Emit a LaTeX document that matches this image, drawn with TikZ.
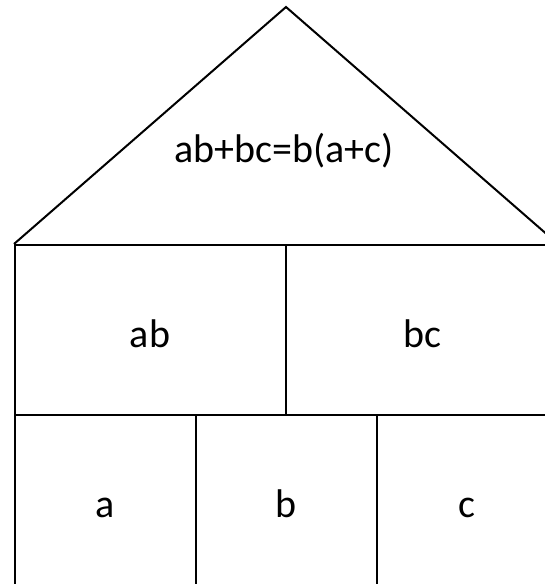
\documentclass[tikz,border=0pt]{standalone}
\usepackage{fontspec}
\setmainfont{Carlito}
\usetikzlibrary{positioning}

\begin{document}
\begin{tikzpicture}[
  x=1pt, y=-1pt,
  cell/.style={draw, line width=2pt, inner sep=0pt, minimum height=170pt},
  lbl/.style={anchor=base, inner sep=0pt, font=\fontsize{40}{44}\selectfont}
]
  \useasboundingbox (0,0) rectangle (545,584);
  \clip (0,0) rectangle (545,584);
  % upper row
  \node[cell, minimum width=271pt] (ab) at (150.5,330) {};
  \node[cell, minimum width=271pt] (bc) at (421.5,330) {};
  % lower row
  \node[cell, minimum width=181pt, minimum height=180pt] (a) at (105.5,505) {};
  \node[cell, minimum width=181pt, minimum height=180pt] (b) at (286.5,505) {};
  \node[cell, minimum width=180pt, minimum height=180pt] (c) at (467,505) {};
  % roof
  \coordinate (apex) at (286,7);
  \draw[line width=2pt, line join=miter] (ab.north west) -- (apex) -- (bc.north east);
  % texts
  \node[lbl] (roof) at (284,162) {ab+bc=b(a+c)};
  \node[lbl] (abtext) at (150,347) {ab};
  \node[lbl] (bctext) at (422,347) {bc};
  \node[lbl] (atext) at (105,517) {a};
  \node[lbl] (btext) at (286,517) {b};
  \node[lbl] (ctext) at (467,517) {c};
\end{tikzpicture}
\end{document}
